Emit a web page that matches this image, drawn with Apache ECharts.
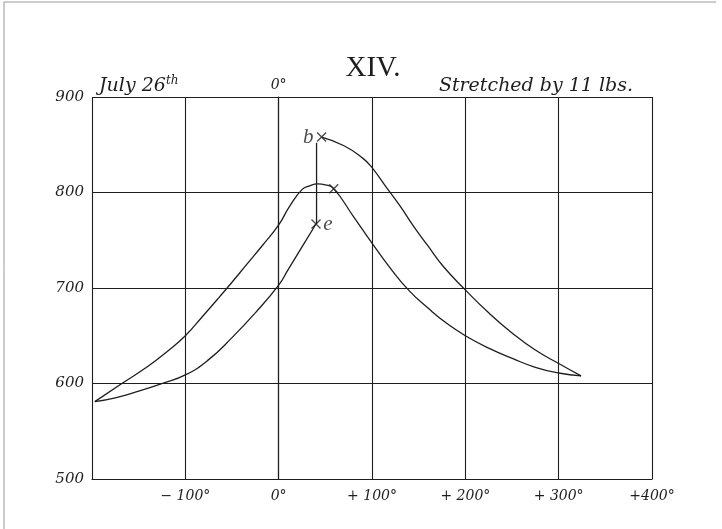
<!DOCTYPE html>
<html>
<head>
<meta charset="utf-8">
<script src="https://cdn.jsdelivr.net/npm/echarts@6/dist/echarts.min.js"></script>
<style>
  html, body { margin: 0; padding: 0; background: #fff; }
  #chart { width: 722px; height: 529px; }
</style>
</head>
<body>
<div id="chart"></div>
<script>
// rising branch, from the left tip up to e
const riseX = [-197, -175, -150, -125, -100, -75, -50, -25, 0, 10, 25, 40]
const riseY = [581, 585, 592, 600, 609, 625, 648, 674, 703, 719, 743, 767]

// vertical step e -> b
const stepX = [40.6, 40.6]
const stepY = [767, 852]

// outer branch, from b down to the right tip
const outerX = [46, 70, 90, 100, 115, 130, 145, 160, 176, 200, 225, 250, 275, 300, 324]
const outerY = [858, 849, 836, 826, 806, 786, 764, 744, 723, 698, 674, 653, 635, 621, 608]

// inner branch, from the right tip back over the peak to the left tip
const innerX = [324, 300, 275, 251, 225, 200, 180, 160, 140, 121, 100, 80, 59, 50, 42, 33, 25, 12, 0, -17, -34, -50, -64, -80, -100, -120, -140, -168, -197]
const innerY = [608, 611, 617, 626, 637, 650, 663, 679, 697, 719, 747, 775, 804, 808, 809, 807, 803, 786, 766, 745, 725, 706, 690, 672, 650, 633, 618, 600, 581]

// marked points
const markNames = ['b', 'e', '']
const markX = [46, 40, 59]
const markY = [858, 767, 804]

const xTicks = [-200, -100, 0, 100, 200, 300, 400]
const xTickLabels = ['', '− 100°', '0°', '+ 100°', '+ 200°', '+ 300°', '+400°']
const yTicks = [500, 600, 700, 800, 900]

const pair = (xs, ys) => xs.map((x, i) => [x, ys[i]])

const ink = '#1e1e1e'
const serif = '"Liberation Serif", "DejaVu Serif", serif'
const script = '"DejaVu Serif", "Liberation Serif", serif'

const chart = echarts.init(document.getElementById('chart'))

const lineSeries = (data) => ({
  type: 'line',
  data: data,
  smooth: 0.5,
  showSymbol: false,
  silent: true,
  lineStyle: { color: ink, width: 1.3 }
})

const option = {
  backgroundColor: '#fff',
  animation: false,
  grid: { left: 92, right: 70, top: 97, bottom: 50 },
  graphic: [
    { type: 'polyline', shape: { points: [[4, 529], [4, 2], [716, 2]] }, style: { stroke: '#999', lineWidth: 1, fill: null } },
    { type: 'text', x: 373, y: 68, style: { text: 'XIV.', font: '29px ' + serif, fill: ink, align: 'center', verticalAlign: 'middle' } },
    {
      type: 'text', x: 99, y: 86,
      style: {
        text: 'July 26{sup|th}', font: 'italic 19px ' + script, fill: ink, verticalAlign: 'middle',
        rich: { sup: { fontSize: 12, fontStyle: 'italic', fontFamily: script, padding: [0, 0, 10, 0] } }
      }
    },
    { type: 'text', x: 633, y: 86, style: { text: 'Stretched by 11 lbs.', font: 'italic 19px ' + script, fill: ink, align: 'right', verticalAlign: 'middle' } }
  ],
  xAxis: [
    {
      type: 'value', min: -200, max: 400, interval: 100,
      axisLine: { show: true, lineStyle: { color: ink, width: 1.2 } },
      axisTick: { show: false },
      splitLine: { show: true, lineStyle: { color: ink, width: 1.1 } },
      axisLabel: {
        margin: 10, color: ink, fontFamily: script, fontStyle: 'italic', fontSize: 14,
        formatter: (v) => xTickLabels[xTicks.indexOf(v)] || ''
      }
    },
    {
      type: 'value', position: 'top', min: -200, max: 400, interval: 100,
      axisLine: { show: false }, axisTick: { show: false }, splitLine: { show: false },
      axisLabel: {
        margin: 5, color: ink, fontFamily: script, fontStyle: 'italic', fontSize: 14,
        formatter: (v) => (v === 0 ? '0°' : '')
      }
    }
  ],
  yAxis: {
    type: 'value', min: 500, max: 900, interval: 100,
    axisLine: { show: true, lineStyle: { color: ink, width: 1.2 } },
    axisTick: { show: false },
    splitLine: { show: true, lineStyle: { color: ink, width: 1.1 } },
    axisLabel: {
      margin: 8, color: ink, fontFamily: script, fontStyle: 'italic', fontSize: 15,
      formatter: (v) => (yTicks.includes(v) ? String(v) : '')
    }
  },
  series: [
    lineSeries(pair(riseX, riseY)),
    Object.assign(lineSeries(pair(stepX, stepY)), { smooth: false }),
    lineSeries(pair(outerX, outerY)),
    lineSeries(pair(innerX, innerY)),
    {
      type: 'scatter',
      data: markX.map((x, i) => ({ value: [x, markY[i]], name: markNames[i] })),
      symbol: 'path://M0,0L10,10M10,0L0,10',
      symbolSize: 9,
      itemStyle: { color: 'transparent', borderColor: ink, borderWidth: 1.4 },
      label: {
        show: true, formatter: (p) => p.name, color: ink,
        fontFamily: serif, fontStyle: 'italic', fontSize: 21,
        position: 'left', distance: 3
      },
      z: 5
    }
  ]
}

option.series[4].data[1].label = { position: 'right', distance: 2 }

chart.setOption(option)
</script>
</body>
</html>
